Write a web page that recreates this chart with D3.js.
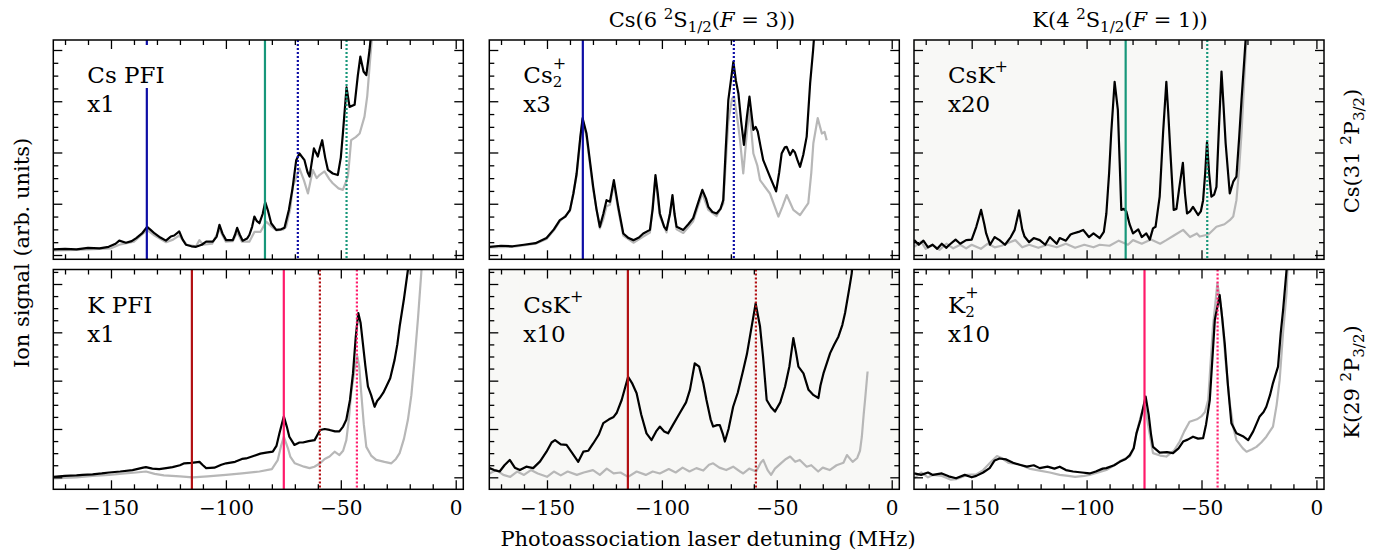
<!DOCTYPE html>
<html>
<head>
<meta charset="utf-8">
<script src="https://cdn.jsdelivr.net/npm/d3@7"></script>
<style>
  body { margin: 0; background: #fff; }
  svg { display: block; }
  text { font-family: "DejaVu Serif", serif; fill: #000; }
</style>
</head>
<body>
<svg id="chart"></svg>
<script>
var WIDTH = 1375;
var HEIGHT = 552;

// detuning (MHz), ion signal (arb. units) -- black = main scan, grey = reference scan
var csPfiMain = [[-175,0.11],[-170,0.12],[-165,0.11],[-160,0.14],[-155,0.13],[-151,0.16],[-148,0.22],[-146.4,0.28],[-143.5,0.24],[-141,0.27],[-139,0.33],[-136.5,0.42],[-134.3,0.55],[-132.5,0.48],[-131,0.42],[-128.5,0.34],[-126.1,0.28],[-124,0.36],[-122.5,0.38],[-120.3,0.46],[-118.8,0.3],[-117.4,0.2],[-115,0.17],[-113,0.16],[-110.5,0.2],[-108.6,0.26],[-105.7,0.26],[-104,0.36],[-102.8,0.59],[-101.5,0.42],[-99.9,0.29],[-97,0.29],[-96,0.4],[-95.1,0.53],[-94,0.4],[-92.7,0.28],[-90.8,0.32],[-89.8,0.39],[-88.6,0.55],[-87.6,0.75],[-86.5,0.66],[-85.4,0.62],[-84,0.8],[-82.9,1.03],[-81.6,0.85],[-80.3,0.62],[-78.1,0.49],[-76,0.5],[-74.5,0.53],[-72.6,0.88],[-71,1.3],[-69.4,1.85],[-68,1.98],[-65.8,1.85],[-64.5,1.62],[-63.6,1.53],[-62.5,1.85],[-61.7,2.08],[-60,1.92],[-59,2.1],[-58.1,2.24],[-56.8,1.9],[-55.6,1.66],[-53.5,1.59],[-51.3,1.56],[-50,1.9],[-49.1,2.37],[-47.5,3.27],[-46.2,2.89],[-44,2.93],[-42.6,3.5],[-41.5,3.87],[-40.1,3.58],[-38.9,3.51],[-37.5,4.0],[-36.2,4.6]];
var csPfiRef = [[-175,0.09],[-165,0.1],[-155,0.12],[-150,0.13],[-146.4,0.2],[-140,0.26],[-134.3,0.49],[-131,0.38],[-126,0.25],[-123,0.3],[-120.3,0.38],[-117,0.2],[-113,0.17],[-111.5,0.29],[-110,0.2],[-106,0.22],[-102.8,0.5],[-100,0.26],[-97,0.27],[-95.1,0.45],[-93,0.26],[-89.8,0.26],[-87.6,0.45],[-85,0.45],[-82.5,0.65],[-80,0.55],[-78,0.48],[-75,0.5],[-73.8,0.55],[-72,0.9],[-70.9,1.33],[-68,1.69],[-66,1.45],[-64.3,1.2],[-62.2,1.66],[-60.5,1.5],[-59.3,1.56],[-57.1,1.63],[-55,1.48],[-53.5,1.4],[-51,1.3],[-49.1,1.27],[-46.9,1.53],[-45.5,2.24],[-43.5,2.3],[-41.8,2.37],[-39.7,2.7],[-38.5,3.1],[-37.5,3.67],[-35.8,4.6]];

var cs2Main = [[-175,0.16],[-170,0.18],[-165,0.17],[-160,0.2],[-155,0.23],[-150.2,0.33],[-147,0.5],[-144.4,0.68],[-142,0.75],[-140,0.88],[-138.5,1.2],[-137.1,1.59],[-135.5,2.3],[-134.5,2.67],[-132.8,2.37],[-131.5,1.9],[-129.9,1.33],[-128.5,0.9],[-127,0.55],[-125.5,0.8],[-124.1,1.07],[-122.6,1.04],[-120.9,1.46],[-119,0.94],[-116.8,0.42],[-114.5,0.33],[-112.4,0.29],[-110,0.34],[-108.1,0.42],[-105.2,0.49],[-104,0.9],[-102.8,1.56],[-101.8,1.2],[-100.9,0.81],[-99,0.55],[-98,0.49],[-96.5,0.8],[-95.4,1.17],[-94.5,0.8],[-93.6,0.55],[-90.7,0.49],[-88.5,0.6],[-86.4,0.72],[-84,1.05],[-82.4,1.27],[-80.8,1.1],[-79.8,0.94],[-78,0.84],[-76.2,0.81],[-74.5,0.9],[-73.3,1.07],[-72.3,2.0],[-71.1,3.02],[-68.9,3.77],[-67.8,3.4],[-66.7,3.15],[-65.5,2.6],[-64.3,2.15],[-63,2.7],[-61.9,3.09],[-60.2,2.44],[-59.2,2.5],[-58.3,2.41],[-57,2.1],[-55.9,1.85],[-53,1.53],[-50.3,1.24],[-49,1.6],[-47.9,1.98],[-46.5,2.1],[-45.7,2.11],[-44.2,1.95],[-43,2.05],[-42.1,2.0],[-41,1.85],[-39.9,1.72],[-38.5,1.95],[-37,2.31],[-35.5,3.35],[-34.2,4.0],[-33.2,4.6]];
var cs2Ref = [[-175,0.15],[-165,0.16],[-155,0.22],[-150.2,0.31],[-147,0.48],[-144.4,0.66],[-140,0.86],[-137.1,1.55],[-135.5,2.25],[-134.5,2.64],[-132.8,2.3],[-129.9,1.28],[-127,0.52],[-125.5,0.7],[-124.1,0.95],[-122.6,0.98],[-120.9,1.4],[-119,0.88],[-116.8,0.38],[-112.4,0.24],[-108.1,0.36],[-105.2,0.44],[-102.8,1.5],[-100.9,0.76],[-98,0.44],[-95.4,1.1],[-93.6,0.5],[-90.7,0.43],[-86.4,0.66],[-82.4,1.2],[-79.8,0.88],[-76.2,0.76],[-73.3,1.0],[-71.1,2.6],[-69.5,3.05],[-68.6,3.09],[-67,2.6],[-66,2.24],[-64.6,1.59],[-63,2.4],[-61.9,2.83],[-60.2,1.98],[-58.5,1.75],[-57.3,1.46],[-53,1.2],[-49.3,0.75],[-47.5,0.95],[-45.7,1.17],[-44,1.0],[-42.8,0.88],[-39.9,0.78],[-36.3,1.01],[-35,1.6],[-34.1,2.18],[-32.2,2.67],[-30.4,2.37],[-29.2,2.4],[-28.3,2.24]];

var csKCsMain = [[-175,0.29],[-173,0.2],[-171,0.28],[-169,0.15],[-167,0.2],[-165,0.12],[-163,0.22],[-161,0.14],[-159.7,0.2],[-157,0.3],[-155,0.22],[-152.4,0.29],[-150,0.3],[-148,0.55],[-145.9,0.88],[-144.5,0.6],[-143.7,0.42],[-142,0.2],[-140,0.35],[-137.9,0.29],[-135.5,0.2],[-133,0.35],[-131.3,0.49],[-129.4,0.87],[-128,0.5],[-127,0.36],[-125,0.25],[-123,0.33],[-120.4,0.29],[-118,0.2],[-116,0.35],[-113,0.22],[-111.7,0.33],[-109,0.28],[-107,0.4],[-105.9,0.42],[-103.5,0.45],[-101.5,0.49],[-99,0.35],[-97,0.42],[-94.3,0.33],[-92.5,0.45],[-91.4,0.81],[-90.2,1.6],[-89.3,2.37],[-87.8,3.38],[-86.4,2.83],[-85.6,1.8],[-84.9,0.88],[-83.8,0.9],[-82.7,0.85],[-81.3,0.6],[-79.8,0.42],[-77.5,0.5],[-76,0.35],[-74,0.42],[-72.5,0.3],[-71.1,0.52],[-70,0.55],[-68.2,1.14],[-66.7,2.4],[-65.3,3.38],[-64.5,2.8],[-63.6,2.05],[-62.1,0.88],[-60.9,0.9],[-59.8,1.27],[-58.1,1.8],[-57.2,1.2],[-56.3,0.81],[-55,0.85],[-53.7,0.94],[-51.5,0.78],[-50.3,0.85],[-49.3,1.07],[-48.4,1.6],[-47.6,2.21],[-46.7,1.6],[-45.7,1.14],[-44.5,1.18],[-43.5,1.33],[-42.4,2.5],[-41.3,3.58],[-40.4,2.9],[-39.5,2.18],[-37.7,1.2],[-36.2,1.43],[-34.8,1.53],[-33.6,2.3],[-32.6,3.02],[-31.4,3.8],[-30.2,4.6]];
var csKCsRef = [[-175,0.16],[-172,0.26],[-170,0.12],[-167,0.2],[-164,0.1],[-161,0.22],[-158,0.13],[-155,0.2],[-152.4,0.13],[-150,0.2],[-146,0.12],[-143,0.22],[-140,0.15],[-137,0.18],[-134,0.24],[-131,0.29],[-128,0.15],[-125,0.2],[-121,0.14],[-117,0.2],[-113,0.15],[-109,0.22],[-105,0.14],[-101,0.2],[-97,0.15],[-94.3,0.2],[-90,0.18],[-86,0.28],[-82,0.2],[-79.8,0.29],[-76,0.22],[-72,0.3],[-68,0.22],[-65.3,0.29],[-62,0.38],[-58,0.49],[-55,0.35],[-52,0.42],[-50.8,0.36],[-47,0.4],[-43.5,0.55],[-40,0.6],[-37.7,0.68],[-36.2,0.75],[-34.8,1.07],[-33.6,1.7],[-32.6,2.37],[-31.1,3.67],[-30,4.6]];

var kPfiMain = [[-175,0.01],[-170,0.03],[-165,0.04],[-162.4,0.05],[-158,0.06],[-154,0.08],[-150.8,0.1],[-146,0.12],[-140.6,0.15],[-136,0.2],[-134.8,0.21],[-132,0.18],[-129,0.17],[-126,0.19],[-123.2,0.21],[-120,0.25],[-118.1,0.29],[-115,0.3],[-111.5,0.32],[-110,0.25],[-108.6,0.19],[-105,0.2],[-102,0.26],[-99.9,0.29],[-96,0.32],[-93,0.38],[-91.2,0.39],[-88,0.44],[-85,0.49],[-82.5,0.51],[-79.6,0.53],[-78,0.65],[-76.7,0.91],[-74.8,1.26],[-73.5,1.05],[-72.4,0.84],[-70.2,0.67],[-68,0.72],[-66.5,0.72],[-64,0.75],[-61.4,0.77],[-59,0.98],[-57,1.0],[-54.9,0.98],[-52.5,0.95],[-50.6,0.95],[-49,1.05],[-47.6,1.19],[-46,1.6],[-44.7,2.15],[-43.5,2.9],[-42.4,3.4],[-41.4,3.2],[-40.4,2.77],[-39.3,2.3],[-38.2,1.88],[-36.8,1.7],[-35.3,1.46],[-34.2,1.58],[-33.1,1.64],[-31.5,1.75],[-30.2,1.88],[-28.5,2.05],[-26.6,2.43],[-25.4,2.75],[-24.4,3.12],[-22.5,3.7],[-20.8,4.29],[-20,4.6]];
var kPfiRef = [[-175,-0.02],[-165,0.0],[-158,0.03],[-150.8,0.05],[-144,0.08],[-139,0.1],[-134.8,0.12],[-131,0.07],[-127,0.04],[-120,0.02],[-114.5,0.0],[-108,0.02],[-100,0.05],[-93,0.08],[-85.4,0.12],[-80,0.17],[-77.5,0.35],[-76,0.65],[-74.8,0.84],[-73,0.6],[-72,0.43],[-70,0.29],[-66,0.22],[-63.6,0.19],[-61.5,0.22],[-59,0.29],[-57,0.38],[-54.9,0.43],[-52.7,0.53],[-50.6,0.46],[-49,0.55],[-47.6,0.77],[-46.5,1.2],[-45.5,1.74],[-43.8,2.3],[-42.8,2.5],[-42,2.3],[-41.1,1.74],[-40,1.1],[-38.9,0.63],[-36.8,0.45],[-34.6,0.36],[-31,0.32],[-28,0.29],[-26,0.38],[-24.4,0.5],[-22.5,0.8],[-20.8,1.19],[-19.3,1.7],[-17.9,2.43],[-16.4,3.3],[-15,4.22],[-14.5,4.6]];

var csKKMain = [[-175,0.19],[-173,0.15],[-170.6,0.12],[-168.5,0.25],[-166.2,0.36],[-164,0.2],[-161.8,0.15],[-159,0.22],[-156,0.19],[-153,0.33],[-150.2,0.53],[-148,0.72],[-146.5,0.77],[-144,0.68],[-141.5,0.67],[-139,0.5],[-136.4,0.32],[-134.2,0.53],[-132,0.55],[-129.9,0.7],[-127.5,0.88],[-125.5,1.12],[-123,1.2],[-121,1.25],[-119.7,1.33],[-117.5,1.6],[-114.7,2.08],[-113,1.95],[-111,1.74],[-109,1.3],[-106.7,0.91],[-104.5,0.77],[-102.5,0.95],[-100.9,1.05],[-99,0.95],[-97.3,0.91],[-95,1.1],[-92.2,1.33],[-89.5,1.55],[-87.8,1.81],[-85.7,2.36],[-83.8,2.29],[-82,1.95],[-80.6,1.6],[-78.8,1.2],[-77.7,1.05],[-76,1.08],[-74.8,1.08],[-73.5,0.9],[-72.6,0.74],[-71,1.0],[-69,1.46],[-67,1.75],[-64.6,2.22],[-63,2.55],[-61.7,2.91],[-59.2,3.6],[-57.3,3.12],[-56,2.5],[-54.4,1.6],[-52.5,1.45],[-50.8,1.36],[-48.5,1.55],[-46.4,1.88],[-44.5,2.3],[-42.8,2.88],[-41.7,2.6],[-40.6,2.29],[-38.4,2.15],[-36.2,1.81],[-34,1.7],[-31.9,1.64],[-31,1.9],[-29.7,2.15],[-26.8,2.57],[-25,2.75],[-23.2,2.91],[-21.5,3.15],[-20.3,3.4],[-18.5,3.9],[-17.4,4.22],[-16.8,4.6]];
var csKKRef = [[-175,0.08],[-172,0.15],[-169,0.05],[-166,0.01],[-163,0.12],[-160,0.05],[-157,0.15],[-154,0.08],[-150,0.01],[-147,0.12],[-144,0.04],[-141,0.12],[-137,0.05],[-134,0.1],[-130,0.15],[-127,0.05],[-124,0.18],[-121,0.08],[-118,0.1],[-114.7,0.01],[-111,0.12],[-107,0.05],[-104,0.12],[-100.9,0.08],[-97,0.17],[-94,0.1],[-91,0.2],[-88,0.12],[-85,0.19],[-82,0.14],[-79.5,0.26],[-77.7,0.29],[-75,0.2],[-72,0.15],[-69,0.22],[-66,0.12],[-64.6,0.08],[-62,0.18],[-59,0.12],[-57,0.3],[-55.9,0.36],[-54,0.15],[-52.5,0.05],[-50.8,0.18],[-48,0.3],[-46,0.38],[-44.2,0.43],[-42,0.32],[-40,0.36],[-37,0.22],[-35,0.25],[-32,0.12],[-30,0.2],[-27,0.15],[-24,0.25],[-21,0.3],[-19.5,0.46],[-17,0.32],[-15,0.4],[-13.8,0.55],[-13,0.84],[-12.2,1.3],[-11.6,1.6],[-10.5,2.19]];

var k2Main = [[-175,0.08],[-172,0.05],[-169,0.1],[-166.9,0.05],[-163,0.08],[-160,0.02],[-156.8,-0.02],[-153,0.05],[-150,0.0],[-148,0.03],[-145,0.1],[-142.2,0.19],[-140,0.35],[-137.9,0.39],[-135,0.37],[-132,0.3],[-129.2,0.26],[-126,0.22],[-123,0.25],[-120.4,0.19],[-117,0.22],[-114,0.18],[-111.7,0.22],[-109,0.15],[-105.9,0.12],[-102,0.1],[-98.7,0.08],[-96,0.12],[-93,0.18],[-91.4,0.19],[-88,0.25],[-85.6,0.32],[-83,0.38],[-81.2,0.46],[-79.5,0.6],[-78.3,0.91],[-76.5,1.2],[-74.3,1.67],[-73,1.3],[-72,0.9],[-71.1,0.63],[-68.2,0.51],[-65,0.52],[-62.4,0.5],[-60,0.6],[-58,0.74],[-56,0.78],[-53.7,0.84],[-51.5,0.8],[-49.3,0.81],[-48,1.1],[-46.4,1.6],[-45.2,2.5],[-44.2,3.26],[-42.1,3.77],[-41,3.3],[-39.9,2.77],[-38.5,1.9],[-37,1.12],[-34.8,0.91],[-32,0.85],[-29.7,0.77],[-27.5,0.95],[-24.7,1.26],[-23,1.35],[-21.8,1.46],[-20.2,1.7],[-18.9,1.95],[-16.7,2.29],[-15.5,3.0],[-14.5,3.46],[-13,4.29],[-12.5,4.6]];
var k2Ref = [[-175,-0.02],[-172,0.1],[-169,0.0],[-166.9,0.05],[-163,0.03],[-159,-0.05],[-156.8,-0.04],[-152,0.05],[-148,0.06],[-145,0.15],[-142,0.3],[-139,0.44],[-137,0.4],[-134,0.3],[-129.2,0.27],[-125,0.18],[-120.4,0.14],[-116,0.1],[-111.7,0.05],[-108,0.03],[-105,0.01],[-101,0.03],[-98.7,0.05],[-95,0.1],[-91.4,0.15],[-88,0.25],[-85,0.35],[-81.2,0.43],[-79.5,0.6],[-78.3,0.91],[-76.5,1.25],[-74.7,1.53],[-73.3,1.1],[-71.1,0.5],[-68,0.45],[-65.3,0.43],[-62,0.55],[-59.5,0.74],[-57.5,0.95],[-55.2,1.15],[-52,1.2],[-50.1,1.26],[-48.5,1.35],[-47.1,1.6],[-46,2.4],[-45,3.12],[-43.1,4.02],[-41.3,3.46],[-39.5,2.4],[-37.7,1.53],[-36,1.0],[-34.8,0.77],[-32,0.6],[-30.4,0.53],[-28,0.58],[-26.1,0.63],[-24,0.72],[-21.8,0.84],[-18.9,1.05],[-17.3,1.5],[-16,2.01],[-14.5,3.0],[-13,3.81],[-12.3,4.6]];

// resonance positions (MHz): [solid, dotted]
var cs2Resonances = [-134.4, -68.7];
var csKCsResonances = [-83.0, -47.5];
var csKKResonances = [-114.8, -59.1];
var k2Resonances = [-74.8, -43.0];

var xTicks = [-150, -100, -50, 0];
var xMinorTicks = d3.range(-170, 1, 10);
var yTicks = [0, 1, 2, 3, 4];
var yMinorTicks = d3.range(0, 4.3, 0.25);

var BLUE = '#0d0da6', GREEN = '#17977a', DARKRED = '#b20f12', PINK = '#ff1a6a';
var REF_GREY = '#b7b7b7', SHADE = '#f8f8f6';

var colLeft = [53.3, 489.3, 914];
var PANEL_W = 410;
var rowTop = [40, 269.5];
var rowBottom = [259.3, 489.3];
var yDomains = [[-0.084, 4.195], [-0.248, 4.30]];
var xDomain = [-175.1, 3.3];

var panels = [
  { row: 0, col: 0, main: csPfiMain, ref: csPfiRef, name: ['Cs PFI'], factor: 'x1', bg: '#fff',
    marks: [[cs2Resonances, BLUE], [csKCsResonances, GREEN]] },
  { row: 0, col: 1, main: cs2Main, ref: cs2Ref, name: ['Cs', '2', '+'], factor: 'x3', bg: '#fff',
    marks: [[cs2Resonances, BLUE]] },
  { row: 0, col: 2, main: csKCsMain, ref: csKCsRef, name: ['CsK', '', '+'], factor: 'x20', bg: SHADE,
    marks: [[csKCsResonances, GREEN]] },
  { row: 1, col: 0, main: kPfiMain, ref: kPfiRef, name: ['K PFI'], factor: 'x1', bg: '#fff',
    marks: [[csKKResonances, DARKRED], [k2Resonances, PINK]] },
  { row: 1, col: 1, main: csKKMain, ref: csKKRef, name: ['CsK', '', '+'], factor: 'x10', bg: SHADE,
    marks: [[csKKResonances, DARKRED]] },
  { row: 1, col: 2, main: k2Main, ref: k2Ref, name: ['K', '2', '+'], factor: 'x10', bg: '#fff',
    marks: [[k2Resonances, PINK]] }
];

var svg = d3.select('#chart')
  .attr('width', WIDTH)
  .attr('height', HEIGHT);

panels.forEach(function(p, i) {
  var x0 = colLeft[p.col];
  var y0 = rowTop[p.row];
  var h = rowBottom[p.row] - y0;
  var xScale = d3.scaleLinear().domain(xDomain).range([0, PANEL_W]);
  var yScale = d3.scaleLinear().domain(yDomains[p.row]).range([h, 0]);

  var g = svg.append('g').attr('transform', 'translate(' + x0 + ',' + y0 + ')');

  g.append('clipPath').attr('id', 'clip' + i)
    .append('rect').attr('width', PANEL_W).attr('height', h);

  g.append('rect').attr('width', PANEL_W).attr('height', h).attr('fill', p.bg);

  var plot = g.append('g').attr('clip-path', 'url(#clip' + i + ')');
  var line = d3.line()
    .x(function(d) { return xScale(d[0]); })
    .y(function(d) { return yScale(d[1]); });

  plot.append('path').datum(p.ref)
    .attr('d', line).attr('fill', 'none')
    .attr('stroke', REF_GREY).attr('stroke-width', 2.2).attr('stroke-linejoin', 'round');
  plot.append('path').datum(p.main)
    .attr('d', line).attr('fill', 'none')
    .attr('stroke', '#000').attr('stroke-width', 2.2).attr('stroke-linejoin', 'round');

  // resonance markers: solid = first, dotted = second
  p.marks.forEach(function(m) {
    m[0].forEach(function(xv, k) {
      plot.append('line')
        .attr('x1', xScale(xv)).attr('x2', xScale(xv))
        .attr('y1', 0).attr('y2', h)
        .attr('stroke', m[1]).attr('stroke-width', 2.2)
        .attr('stroke-dasharray', k === 1 ? '2,2' : null);
    });
  });

  // panel label (one text element, sub/superscripts as tspans)
  var lx = 34, ly = 43;
  var lab = g.append('g');
  var bgRect = lab.append('rect').attr('fill', p.bg);
  var t = lab.append('text').attr('x', lx).attr('y', ly).attr('font-size', 23);
  t.append('tspan').text(p.name[0]);
  if (p.name.length > 1) {
    var back = 0;
    if (p.name[1]) {
      var sub = t.append('tspan').attr('font-size', 15).attr('dy', 4).text(p.name[1]);
      back = sub.node().getComputedTextLength();
    }
    t.append('tspan').attr('font-size', 16)
      .attr('dx', -back).attr('dy', p.name[1] ? -18.5 : -11).text(p.name[2]);
  }
  var bb = t.node().getBBox();
  bgRect.attr('x', bb.x - 4).attr('y', 5).attr('width', bb.width + 8).attr('height', ly + 5 - 5);
  lab.append('text').attr('x', lx).attr('y', ly + 29).attr('font-size', 23).text(p.factor);

  // frame
  g.append('rect').attr('width', PANEL_W).attr('height', h)
    .attr('fill', 'none').attr('stroke', '#000').attr('stroke-width', 1.5);

  // ticks (all inward)
  function axisStyle(sel) {
    sel.select('.domain').remove();
    sel.selectAll('line').attr('stroke', '#000').attr('stroke-width', 1.3);
  }
  var xMinor = xMinorTicks.filter(function(v) { return xTicks.indexOf(v) < 0; });
  var bottom = g.append('g').attr('transform', 'translate(0,' + h + ')')
    .call(d3.axisBottom(xScale).tickValues(xTicks).tickSize(-9).tickPadding(12)
      .tickFormat(p.row === 1 ? d3.format('') : function() { return ''; }));
  axisStyle(bottom);
  bottom.selectAll('text').attr('font-size', 20).attr('font-family', '"DejaVu Serif", serif').attr('fill', '#000');
  g.append('g').attr('transform', 'translate(0,' + h + ')')
    .call(d3.axisBottom(xScale).tickValues(xMinor).tickSize(-5).tickFormat('')).call(axisStyle);
  g.append('g')
    .call(d3.axisTop(xScale).tickValues(xTicks).tickSize(-9).tickFormat('')).call(axisStyle);
  g.append('g')
    .call(d3.axisTop(xScale).tickValues(xMinor).tickSize(-5).tickFormat('')).call(axisStyle);

  var yMinor = yMinorTicks.filter(function(v) { return yTicks.indexOf(v) < 0 && v <= yDomains[p.row][1]; });
  g.append('g')
    .call(d3.axisLeft(yScale).tickValues(yTicks).tickSize(-9).tickFormat('')).call(axisStyle);
  g.append('g')
    .call(d3.axisLeft(yScale).tickValues(yMinor).tickSize(-5).tickFormat('')).call(axisStyle);
  g.append('g').attr('transform', 'translate(' + PANEL_W + ',0)')
    .call(d3.axisRight(yScale).tickValues(yTicks).tickSize(-9).tickFormat('')).call(axisStyle);
  g.append('g').attr('transform', 'translate(' + PANEL_W + ',0)')
    .call(d3.axisRight(yScale).tickValues(yMinor).tickSize(-5).tickFormat('')).call(axisStyle);
});

// state labels with sub/superscripts
function stateLabel(sel, parts) {
  parts.forEach(function(pt) {
    var ts = sel.append('tspan').text(pt[0]);
    if (pt[1] === 'sup') ts.attr('font-size', 15).attr('dy', -8);
    if (pt[1] === 'sub') ts.attr('font-size', 15).attr('dy', 5);
    if (pt[1] === 'it') ts.attr('font-style', 'italic');
    if (pt[2]) ts.attr('dy', pt[2]);
  });
}

var title1 = svg.append('text').attr('x', 702).attr('y', 27).attr('font-size', 21).attr('text-anchor', 'middle');
stateLabel(title1, [['Cs(6 '], ['2', 'sup'], ['S', null, 8], ['1/2', 'sub'], ['(', null, -5], ['F', 'it'], [' = 3))']]);
var title2 = svg.append('text').attr('x', 1120).attr('y', 27).attr('font-size', 21).attr('text-anchor', 'middle');
stateLabel(title2, [['K(4 '], ['2', 'sup'], ['S', null, 8], ['1/2', 'sub'], ['(', null, -5], ['F', 'it'], [' = 1))']]);

var r1 = svg.append('text').attr('transform', 'translate(1359,151) rotate(-90)')
  .attr('font-size', 21).attr('text-anchor', 'middle');
stateLabel(r1, [['Cs(31 '], ['2', 'sup'], ['P', null, 8], ['3/2', 'sub'], [')', null, -5]]);
var r2 = svg.append('text').attr('transform', 'translate(1359,382) rotate(-90)')
  .attr('font-size', 21).attr('text-anchor', 'middle');
stateLabel(r2, [['K(29 '], ['2', 'sup'], ['P', null, 8], ['3/2', 'sub'], [')', null, -5]]);

// axis titles
svg.append('text').attr('x', 708).attr('y', 546).attr('font-size', 21)
  .attr('text-anchor', 'middle').text('Photoassociation laser detuning (MHz)');
svg.append('text').attr('transform', 'translate(29,253) rotate(-90)').attr('font-size', 21)
  .attr('text-anchor', 'middle').text('Ion signal (arb. units)');
</script>
</body>
</html>
